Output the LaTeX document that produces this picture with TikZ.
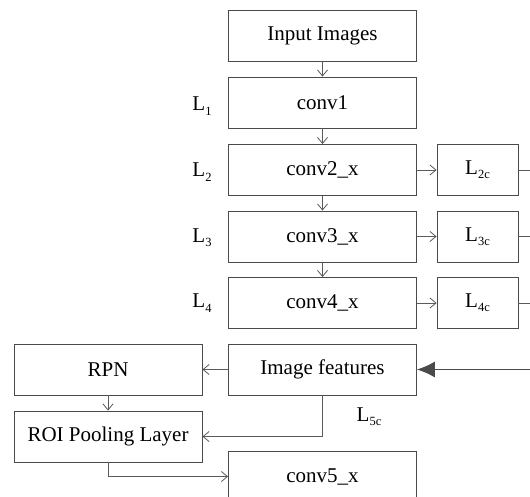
\documentclass[tikz,border=0pt]{standalone}
\usepackage{fontspec}
\setmainfont{Liberation Serif}
\usetikzlibrary{arrows.meta}
\newcommand{\Lsub}[1]{L\raisebox{-0.45ex}{\fontsize{12.5}{13}\selectfont #1}}
\definecolor{boxline}{HTML}{4A4A4A}
\definecolor{arrline}{HTML}{5A5A5A}
\begin{document}
\begin{tikzpicture}[x=1pt,y=-1pt,
  box/.style={draw=boxline,line width=0.9pt,inner sep=0pt,minimum width=188pt,minimum height=51pt,
    font=\fontsize{21}{25}\selectfont},
  lbox/.style={box,minimum width=81pt},
  lab/.style={inner sep=0pt,font=\fontsize{21}{25}\selectfont},
  conn/.style={draw=arrline,line width=0.8pt,-{Straight Barb[length=6pt,width=10pt]}},
  plain/.style={draw=arrline,line width=0.8pt},
  big/.style={draw=boxline,line width=1pt,-{Latex[length=18pt,width=16pt]}}]
\useasboundingbox (0,0) rectangle (530,497);
\clip (0,0) rectangle (530,497);
\fill[white] (0,0) rectangle (530,497);
% main column
\node[box] (in) at (322.5,35.5) {Input Images};
\node[box] (c1) at (322.5,102.5) {conv1};
\node[box] (c2) at (322.5,170) {conv2\_x};
\node[box] (c3) at (322.5,236.5) {conv3\_x};
\node[box] (c4) at (322.5,303) {conv4\_x};
\node[box] (feat) at (322.5,369.5) {Image features};
\node[box] (c5) at (322.5,476.5) {conv5\_x};
% side boxes
\node[lbox] (l2) at (477.5,170) {\Lsub{2c}};
\node[lbox] (l3) at (477.5,236.5) {\Lsub{3c}};
\node[lbox] (l4) at (477.5,303) {\Lsub{4c}};
% left column
\node[box] (rpn) at (108,369.5) {RPN};
\node[box] (roi) at (108,436.5) {ROI Pooling Layer};
% labels
\node[lab] (t1) at (202,106) {\Lsub{1}};
\node[lab] (t2) at (202,172) {\Lsub{2}};
\node[lab] (t3) at (202,238) {\Lsub{3}};
\node[lab] (t4) at (202,303) {\Lsub{4}};
\node[lab] (t5) at (369,417) {\Lsub{5c}};
% right edge coordinates
\coordinate (e2) at (540,170);
\coordinate (e3) at (540,236.5);
\coordinate (e4) at (540,303);
\coordinate (e5) at (540,369.5);
% connectors
\draw[conn] (in) -- (c1);
\draw[conn] (c1) -- (c2);
\draw[conn] (c2) -- (c3);
\draw[conn] (c3) -- (c4);
\draw[conn] (c2) -- (l2);
\draw[conn] (c3) -- (l3);
\draw[conn] (c4) -- (l4);
\draw[plain] (l2) -- (e2);
\draw[plain] (l3) -- (e3);
\draw[plain] (l4) -- (e4);
\draw[big] (e5) -- (feat);
\draw[conn] (feat) -- (rpn);
\draw[conn] (rpn) -- (roi);
\draw[conn] (feat.south) |- (roi.east);
\draw[conn] (roi.south) |- (c5.west);
\end{tikzpicture}
\end{document}
